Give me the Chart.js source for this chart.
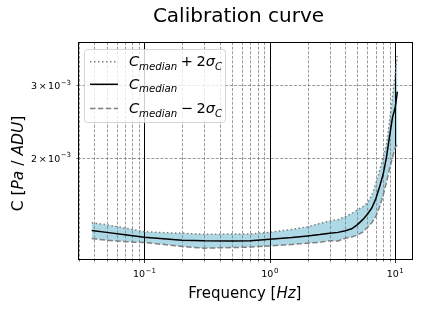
<!DOCTYPE html>
<html>
<head>
<meta charset="utf-8">
<script src="https://cdn.jsdelivr.net/npm/chart.js@4/dist/chart.umd.min.js"></script>
<style>
  html, body { margin: 0; padding: 0; background: #fff; }
  #wrap { width: 422px; height: 310px; }
</style>
</head>
<body>
<div id="wrap"><canvas id="chart" width="422" height="310"></canvas></div>
<script>
"use strict";
/* Calibration curve: median C with a +/- 2 sigma band, log-log axes. */

// ---- data ----
const freq    = [0.038, 0.05, 0.07, 0.1, 0.15, 0.2, 0.3, 0.5, 0.7, 1.0, 1.5, 2.0, 2.5, 3.0, 3.5,
                 4.0, 4.5, 5.0, 5.5, 6.0, 6.5, 7.0, 7.5, 8.0, 8.5, 9.0, 9.5, 10.0, 10.4];
const cMedian = [1.331, 1.318, 1.300, 1.283, 1.270, 1.262, 1.257, 1.256, 1.257, 1.268, 1.280, 1.292, 1.302, 1.312, 1.318,
                 1.330, 1.345, 1.376, 1.415, 1.458, 1.510, 1.590, 1.700, 1.820, 2.000, 2.250, 2.500, 2.650, 2.890];
const cUpper  = [1.391, 1.375, 1.350, 1.323, 1.315, 1.312, 1.304, 1.306, 1.306, 1.319, 1.340, 1.360, 1.385, 1.405, 1.415,
                 1.440, 1.465, 1.495, 1.520, 1.555, 1.620, 1.730, 1.860, 2.000, 2.150, 2.450, 2.800, 3.200, 3.580];
const cLower  = [1.273, 1.262, 1.252, 1.245, 1.230, 1.218, 1.207, 1.211, 1.214, 1.222, 1.232, 1.241, 1.247, 1.258, 1.256,
                 1.276, 1.285, 1.299, 1.320, 1.355, 1.390, 1.440, 1.520, 1.620, 1.740, 1.880, 2.000, 2.120, 2.150];
const scaleC = 1e-3;   // values above are in units of 1e-3 Pa/ADU

const xMajorTicks = [0.1, 1, 10];
const xMinorTicks = [0.03, 0.04, 0.05, 0.06, 0.07, 0.08, 0.09, 0.2, 0.3, 0.4, 0.5, 0.6, 0.7, 0.8, 0.9,
                     2, 3, 4, 5, 6, 7, 8, 9];
const xTickExp = ["\u22121", "0", "1"];          // labels 10^-1, 10^0, 10^1
const yMinorTicks = [0.002, 0.003];
const yTickMant = ["2", "3"];                     // labels 2x10^-3, 3x10^-3
const yTickExp = "\u22123";

const FONT = "'DejaVu Sans', sans-serif";
const GREY = "#808080";
const pts = (ys) => freq.map((f, i) => ({ x: f, y: ys[i] * scaleC }));

// draw text made of parts with different fonts / vertical offsets
function richText(ctx, parts, x, y) {
  let cx = x;
  for (const p of parts) {
    ctx.font = p.font;
    cx += p.pre || 0;
    ctx.fillText(p.t, cx, y + (p.dy || 0));
    cx += ctx.measureText(p.t).width + (p.post || 0);
  }
  return cx - x;
}
function richWidth(ctx, parts) {
  let w = 0;
  for (const p of parts) { ctx.font = p.font; w += (p.pre || 0) + ctx.measureText(p.t).width + (p.post || 0); }
  return w;
}

const LS = 14.5, SS = 10.2;
const it = (s) => `italic ${s}px ${FONT}`, rm = (s) => `${s}px ${FONT}`;
const cMed = [{ t: "C", font: it(LS) }, { t: "median", font: it(SS), dy: 3.5 }];
const legendRows = [
  { parts: cMed.concat([{ t: "+", font: rm(LS), pre: 3.5, post: 3.5 }, { t: "2", font: rm(LS) },
    { t: "\u03C3", font: it(LS) }, { t: "C", font: it(SS), dy: 3.5 }]), y: 61.7, ds: 1 },
  { parts: cMed, y: 84.3, ds: 0 },
  { parts: cMed.concat([{ t: "\u2212", font: rm(LS), pre: 3.5, post: 3.5 }, { t: "2", font: rm(LS) },
    { t: "\u03C3", font: it(LS) }, { t: "C", font: it(SS), dy: 3.5 }]), y: 108.5, ds: 2 },
];

const decor = {
  id: "decor",
  afterDatasetDraw(chart, args) {
    if (args.index !== 3) return;        // grid sits above the band, below the lines
    const { ctx, chartArea: a, scales: { x, y } } = chart;
    ctx.save();
    ctx.beginPath(); ctx.rect(a.left, a.top, a.right - a.left, a.bottom - a.top); ctx.clip();
    ctx.strokeStyle = GREY; ctx.lineWidth = 0.8; ctx.setLineDash([3, 1.6]);
    for (const v of xMinorTicks) {
      const px = Math.round(x.getPixelForValue(v)) + 0.5;
      ctx.beginPath(); ctx.moveTo(px, a.top); ctx.lineTo(px, a.bottom); ctx.stroke();
    }
    for (const v of yMinorTicks) {
      const py = Math.round(y.getPixelForValue(v)) + 0.5;
      ctx.beginPath(); ctx.moveTo(a.left, py); ctx.lineTo(a.right, py); ctx.stroke();
    }
    ctx.setLineDash([]); ctx.strokeStyle = "#000"; ctx.lineWidth = 1;
    for (const v of xMajorTicks) {
      const px = Math.round(x.getPixelForValue(v)) + 0.5;
      ctx.beginPath(); ctx.moveTo(px, a.top); ctx.lineTo(px, a.bottom); ctx.stroke();
    }
    ctx.restore();
  },
  afterDraw(chart) {
    const { ctx, chartArea: a, scales: { x, y } } = chart;
    ctx.save();
    // spines
    ctx.strokeStyle = "#000"; ctx.lineWidth = 1;
    ctx.strokeRect(Math.round(a.left) + 0.5, Math.round(a.top) + 0.5,
      Math.round(a.right - a.left), Math.round(a.bottom - a.top));
    // tick marks
    const b = Math.round(a.bottom) + 0.5, l = Math.round(a.left) + 0.5;
    ctx.lineWidth = 0.8;
    for (const v of xMajorTicks) {
      const px = Math.round(x.getPixelForValue(v)) + 0.5;
      ctx.beginPath(); ctx.moveTo(px, b); ctx.lineTo(px, b + 3.5); ctx.stroke();
    }
    ctx.lineWidth = 0.6;
    for (const v of xMinorTicks) {
      const px = Math.round(x.getPixelForValue(v)) + 0.5;
      ctx.beginPath(); ctx.moveTo(px, b); ctx.lineTo(px, b + 2); ctx.stroke();
    }
    for (const v of yMinorTicks) {
      const py = Math.round(y.getPixelForValue(v)) + 0.5;
      ctx.beginPath(); ctx.moveTo(l, py); ctx.lineTo(l - 2, py); ctx.stroke();
    }
    // tick labels (mathtext-like superscripts)
    ctx.fillStyle = "#000"; ctx.textBaseline = "alphabetic"; ctx.textAlign = "left";
    xMajorTicks.forEach((v, i) => {
      const parts = [{ t: "10", font: rm(9.5) }, { t: xTickExp[i], font: rm(7), dy: -4.5, pre: 0.5 }];
      const px = x.getPixelForValue(v);
      richText(ctx, parts, px - richWidth(ctx, parts) / 2, 277);
    });
    yMinorTicks.forEach((v, i) => {
      const parts = [{ t: yTickMant[i], font: rm(9.5) }, { t: "\u00D7", font: rm(9.5), pre: 1.5, post: 1.5 },
                     { t: "10", font: rm(9.5) }, { t: yTickExp, font: rm(7), dy: -4.5, pre: 0.5 }];
      const py = y.getPixelForValue(v);
      richText(ctx, parts, 71 - richWidth(ctx, parts), py + 4);
    });
    // title and axis titles
    ctx.font = rm(20);
    const tw = ctx.measureText("Calibration curve").width;
    ctx.fillText("Calibration curve", 238.5 - tw / 2, 22);
    const xl = [{ t: "Frequency [", font: rm(15) }, { t: "Hz", font: it(15) }, { t: "]", font: rm(15) }];
    richText(ctx, xl, (a.left + a.right) / 2 - richWidth(ctx, xl) / 2, 298);
    const yl = [{ t: "C [", font: rm(15.5) }, { t: "Pa", font: it(15.5) }, { t: " / ", font: rm(15.5) },
                { t: "ADU", font: it(15.5) }, { t: "]", font: rm(15.5) }];
    ctx.save(); ctx.translate(23, 163.5); ctx.rotate(-Math.PI / 2);
    richText(ctx, yl, -richWidth(ctx, yl) / 2, 0);
    ctx.restore();
    // legend
    const lx = 84, ly = 49, lw = 141, lh = 73;
    ctx.fillStyle = "rgba(255,255,255,0.8)"; ctx.strokeStyle = "rgba(204,204,204,0.8)"; ctx.lineWidth = 1;
    ctx.beginPath(); ctx.roundRect(lx + 0.5, ly + 0.5, lw, lh, 3); ctx.fill(); ctx.stroke();
    for (const row of legendRows) {
      const ds = chart.data.datasets[row.ds];
      ctx.strokeStyle = ds.borderColor; ctx.lineWidth = ds.borderWidth; ctx.setLineDash(ds.borderDash || []);
      ctx.beginPath(); ctx.moveTo(90, row.y); ctx.lineTo(118, row.y); ctx.stroke();
      ctx.setLineDash([]); ctx.fillStyle = "#000";
      richText(ctx, row.parts, 129, row.y + 4.5);
    }
    ctx.restore();
  },
};

new Chart(document.getElementById("chart"), {
  type: "line",
  data: {
    datasets: [
      { label: "C_median", data: pts(cMedian), borderColor: "#000", borderWidth: 1.5, pointRadius: 0, fill: false },
      { label: "C_median + 2sigma_C", data: pts(cUpper), borderColor: GREY, borderWidth: 1.5, borderDash: [1.5, 2.5],
        pointRadius: 0, fill: false },
      { label: "C_median - 2sigma_C", data: pts(cLower), borderColor: GREY, borderWidth: 1.5, borderDash: [5.5, 2.4],
        pointRadius: 0, fill: false },
      { label: "band", data: pts(cUpper), borderWidth: 0, borderColor: "rgba(0,0,0,0)", pointRadius: 0,
        fill: 2, backgroundColor: "#add8e6" },
    ],
  },
  options: {
    responsive: false, devicePixelRatio: 1, animation: false,
    layout: { padding: { top: 42, right: 10, left: 0, bottom: 0 } },
    plugins: { legend: { display: false }, title: { display: false }, tooltip: { enabled: false } },
    scales: {
      x: {
        type: "logarithmic", min: 0.0294, max: 13.6,
        afterBuildTicks: (s) => {
          s.ticks = xMinorTicks.concat(xMajorTicks).sort((p, q) => p - q)
            .map((v) => ({ value: v, major: xMajorTicks.includes(v) }));
        },
        afterFit: (s) => { s.height = 51; },
        grid: { display: false }, border: { display: false },
        ticks: { display: false, autoSkip: false },
      },
      y: {
        type: "logarithmic", min: 1.136e-3, max: 3.814e-3,
        afterBuildTicks: (s) => { s.ticks = yMinorTicks.map((v) => ({ value: v })); },
        afterFit: (s) => { s.width = 77.7; },
        grid: { display: false }, border: { display: false },
        ticks: { display: false, autoSkip: false },
      },
    },
  },
  plugins: [decor],
});
</script>
</body>
</html>
